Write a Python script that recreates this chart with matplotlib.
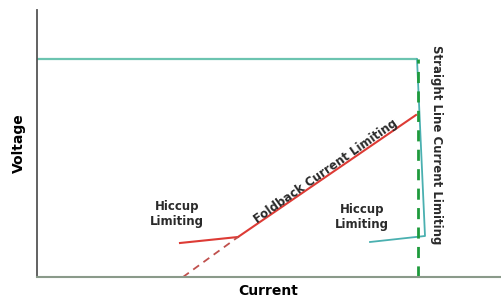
import matplotlib
matplotlib.use("Agg")
import matplotlib.pyplot as plt

# Data (arbitrary current / voltage units)
cv_x = [0, 380]
cv_y = [218, 218]
straight_x = [380, 388, 333]
straight_y = [218, 41, 35]
limit_x = [381, 381]
limit_y = [0, 218]
foldback_x = [201, 379]
foldback_y = [40, 162]
hiccup_x = [143, 201]
hiccup_y = [34, 40]
fold_ext_x = [146, 201]
fold_ext_y = [0, 40]

plt.rcParams['font.family'] = ['DejaVu Sans']

fig = plt.figure(figsize=(5.01, 3.0), dpi=100)
ax = fig.add_axes([37/501, 23/300, 463/501, 267/300])
ax.set_xlim(0, 463)
ax.set_ylim(0, 267)

ax.plot(cv_x, cv_y, color='#6cc4b0', lw=1.6, solid_capstyle='butt')
ax.plot(straight_x, straight_y, color='#4ab0b0', lw=1.3)
ax.plot(limit_x, limit_y, color='#1e9a3c', lw=2.0, ls=(0, (4, 3)))
ax.plot(foldback_x, foldback_y, color='#dd3b35', lw=1.5)
ax.plot(hiccup_x, hiccup_y, color='#dd3b35', lw=1.5)
ax.plot(fold_ext_x, fold_ext_y, color='#c0504d', lw=1.3, ls=(0, (4, 3)))

for s in ['top', 'right']:
    ax.spines[s].set_visible(False)
ax.spines['left'].set_color('#555555')
ax.spines['left'].set_linewidth(1.3)
ax.spines['bottom'].set_color('#8a9a8a')
ax.spines['bottom'].set_linewidth(1.5)
ax.set_xticks([])
ax.set_yticks([])

ax.set_xlabel('Current', fontsize=10, fontweight='bold', labelpad=5)
ax.set_ylabel('Voltage', fontsize=10, fontweight='bold', labelpad=8)

tkw = dict(fontsize=8.5, fontweight='bold', color='#2a2a2a', ha='center', va='center')
ax.text(140, 63, 'Hiccup\nLimiting', linespacing=1.15, **tkw)
ax.text(325, 60, 'Hiccup\nLimiting', linespacing=1.15, **tkw)
ax.text(289, 106, 'Foldback Current Limiting', rotation=35,
        rotation_mode='anchor', **tkw)
ax.text(399, 132, 'Straight Line Current Limiting', rotation=-90, **tkw)

fig.savefig('out.png', dpi=100)
